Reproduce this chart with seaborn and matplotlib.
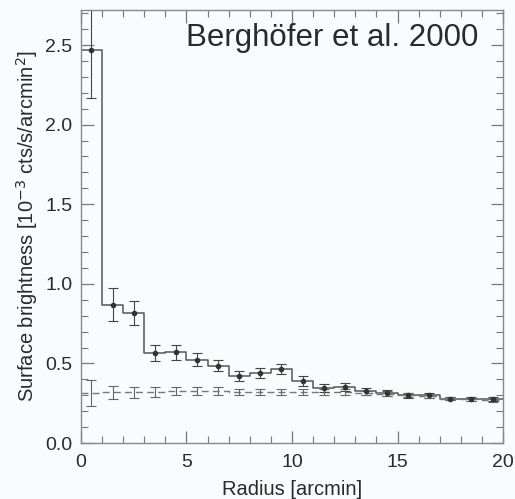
import numpy as np
import matplotlib
matplotlib.use("Agg")
import matplotlib.pyplot as plt
import seaborn as sns
from matplotlib.ticker import MultipleLocator

radius = [0.5, 1.5, 2.5, 3.5, 4.5, 5.5, 6.5, 7.5, 8.5, 9.5,
          10.5, 11.5, 12.5, 13.5, 14.5, 15.5, 16.5, 17.5, 18.5, 19.5]
source = [2.47, 0.87, 0.815, 0.565, 0.57, 0.525, 0.485, 0.42, 0.44, 0.465,
          0.39, 0.345, 0.355, 0.325, 0.315, 0.30, 0.30, 0.28, 0.275, 0.275]
source_err = [0.30, 0.105, 0.075, 0.05, 0.045, 0.04, 0.035, 0.03, 0.03, 0.03,
              0.03, 0.025, 0.025, 0.02, 0.02, 0.015, 0.015, 0.012, 0.012, 0.012]
background = [0.315, 0.32, 0.32, 0.32, 0.325, 0.325, 0.325, 0.32, 0.32, 0.32,
              0.32, 0.32, 0.32, 0.315, 0.31, 0.30, 0.295, 0.28, 0.275, 0.27]
background_err = [0.08, 0.04, 0.035, 0.03, 0.025, 0.025, 0.025, 0.02, 0.02, 0.02,
                  0.02, 0.02, 0.02, 0.015, 0.015, 0.012, 0.012, 0.01, 0.01, 0.01]
bin_edges = list(range(0, 21))

sns.set_style("ticks")
plt.rcParams['font.family'] = ['Liberation Sans', 'DejaVu Sans']

fig = plt.figure(figsize=(5.15, 4.99), dpi=100)
bg = "#f9fcfc"
fig.patch.set_facecolor(bg)
ax = fig.add_axes([0.157, 0.112, 0.820, 0.868])
ax.set_facecolor(bg)

line_col = "#555555"
sns.histplot(x=radius, weights=source, bins=bin_edges, element="step", fill=False,
             color=line_col, linewidth=1.1, ax=ax)
sns.histplot(x=radius, weights=background, bins=bin_edges, element="step", fill=False,
             color="#777777", linewidth=1.0, linestyle=(0, (5, 3)), ax=ax)

ax.errorbar(radius, source, yerr=source_err, fmt="o", ms=3, color="#333333",
            ecolor="#444444", elinewidth=0.8, capsize=3.5, capthick=0.8)
ax.errorbar(radius, background, yerr=background_err, fmt="none",
            ecolor="#666666", elinewidth=0.8, capsize=3.5, capthick=0.8)

ax.set_xlim(0, 20)
ax.set_ylim(0, 2.72)
ax.xaxis.set_major_locator(MultipleLocator(5))
ax.xaxis.set_minor_locator(MultipleLocator(1))
ax.yaxis.set_major_locator(MultipleLocator(0.5))
ax.yaxis.set_minor_locator(MultipleLocator(0.1))
ax.set_yticks([0, 0.5, 1.0, 1.5, 2.0, 2.5])
ax.set_yticklabels(["0.0", "0.5", "1.0", "1.5", "2.0", "2.5"])
ax.tick_params(which="both", direction="in", top=True, right=True, color="#777777",
               labelsize=14, labelcolor="#2a2a2a")
ax.tick_params(axis="x", pad=8)
ax.tick_params(axis="y", pad=6)
ax.tick_params(which="major", length=9, width=0.9)
ax.tick_params(which="minor", length=5, width=0.8)
for s in ax.spines.values():
    s.set_color("#888888")
    s.set_linewidth(1.0)

ax.set_xlabel("Radius [arcmin]", fontsize=14.5, color="#2a2a2a", labelpad=6)
ax.set_ylabel("Surface brightness [10$^{-3}$ cts/s/arcmin$^{2}$]", fontsize=14.5,
              color="#2a2a2a", labelpad=4)
ax.text(0.941, 0.935, "Berghöfer et al. 2000", transform=ax.transAxes, ha="right",
        va="center", fontsize=22.5, color="#2a2a2a")

fig.savefig("out.png", dpi=100, facecolor=bg)
